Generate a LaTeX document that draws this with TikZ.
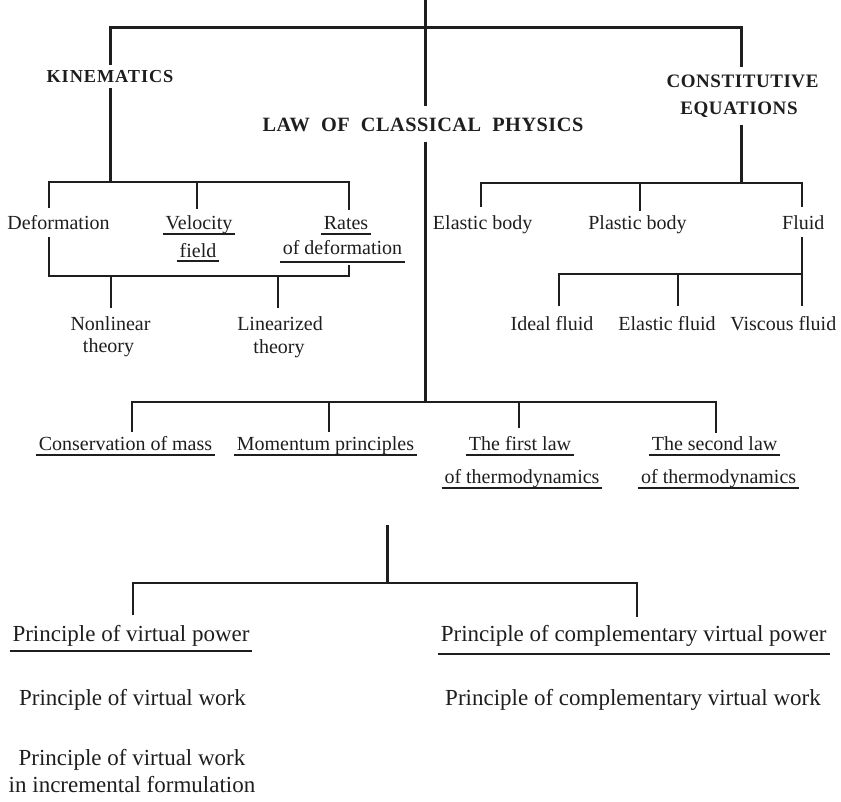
\documentclass[tikz,border=0pt]{standalone}
\usepackage{fontspec}
\setmainfont{Liberation Serif}
\definecolor{ink}{HTML}{1E1E1E}

% underline a line of text: #1 = distance of the rule's centre below the baseline
\newcommand\ulin[2][5.5pt]{%
  \setbox0=\hbox{#2}%
  \rlap{\kern-3pt\vrule height -\dimexpr#1-0.9pt\relax depth \dimexpr#1+0.9pt\relax width \dimexpr\wd0+6pt\relax}%
  \box0}

\begin{document}
\begin{tikzpicture}[x=1pt,y=-1pt,
  every node/.style={inner sep=0pt, outer sep=0pt, text=ink},
  lbl/.style={font=\fontsize{20}{24}\selectfont, anchor=base, text height=14pt, text depth=5pt},
  big/.style={font=\fontsize{23}{28}\selectfont, anchor=base, text height=16pt, text depth=6pt},
  headk/.style={font={\fontsize{18.3}{20}\selectfont\bfseries\addfontfeature{LetterSpace=5}}, anchor=base, text height=12pt, text depth=3pt},
  headl/.style={font={\fontsize{20.3}{22}\selectfont\bfseries\addfontfeature{LetterSpace=2.5}}, anchor=base, text height=13pt, text depth=4pt},
  headc/.style={font={\fontsize{19}{22}\selectfont\bfseries\addfontfeature{LetterSpace=3}}, anchor=base, text height=13pt, text depth=3pt},
  thickln/.style={draw=ink, line width=3pt, line join=miter},
  thinln/.style={draw=ink, line width=2pt, line join=miter},
]
\useasboundingbox (0,0) rectangle (841,801);

% ---------- headings ----------
\node[headk] (kin)  at (110,82)    {KINEMATICS};
\node[headl] (law)  at (423,131.7) {LAW~~OF~~CLASSICAL~~PHYSICS};
\node[headc] (con1) at (742.5,87.3)  {CONSTITUTIVE};
\node[headc] (con2) at (739,114) {EQUATIONS};

% ---------- kinematics ----------
\node[lbl] (def)  at (58.5,229)  {Deformation};
\node[lbl] (vel1) at (199,229)   {\ulin[5.3pt]{Velocity}};
\node[lbl] (vel2) at (198,257)   {\ulin[4.3pt]{field}};
\node[lbl] (rat1) at (346,229)   {\ulin[5.3pt]{Rates}};
\node[lbl] (rat2) at (342.5,254.5) {\ulin[7.5pt]{of deformation}};
\node[lbl] (non1) at (110.5,330) {Nonlinear};
\node[lbl] (non2) at (108.5,352.7) {theory};
\node[lbl] (lin1) at (280,330)   {Linearized};
\node[lbl] (lin2) at (279,353)   {theory};

% ---------- constitutive equations ----------
\node[lbl] (ela) at (482.7,229.3) {Elastic body};
\node[lbl] (pla) at (637.5,229.3) {Plastic body};
\node[lbl] (flu) at (803.3,229.3) {Fluid};
\node[lbl] (idl) at (552,330)     {Ideal fluid};
\node[lbl] (efl) at (667,330)     {Elastic fluid};
\node[lbl] (vis) at (783.3,330)   {Viscous fluid};

% ---------- laws of classical physics ----------
\node[lbl] (cons) at (125.5,450) {\ulin[5pt]{Conservation of mass}};
\node[lbl] (mom)  at (325.5,450) {\ulin[5pt]{Momentum principles}};
\node[lbl] (fl1)  at (520,450)   {\ulin[5pt]{The first law}};
\node[lbl] (fl2)  at (522,483.3) {\ulin[5pt]{of thermodynamics}};
\node[lbl] (sl1)  at (714.6,450) {\ulin[5pt]{The second law}};
\node[lbl] (sl2)  at (718.7,483.3) {\ulin[5pt]{of thermodynamics}};

% ---------- variational principles ----------
\node[big] (pvp)  at (131,641.7)   {\ulin[9pt]{Principle of virtual power}};
\node[big] (pcvp) at (633.7,641.7) {\ulin[12.3pt]{Principle of complementary virtual power}};
\node[big] (pvw)  at (132.5,705)   {Principle of virtual work};
\node[big] (pcvw) at (633,705)     {Principle of complementary virtual work};
\node[big] (pvi1) at (132,765)     {Principle of virtual work};
\node[big] (pvi2) at (132,792.7)   {in incremental formulation};

% ---------- junction points ----------
\coordinate (root) at (425.5,0);
\coordinate (tl) at (110,27);
\coordinate (tr) at (741.5,27);
\coordinate (kj) at (110,181.7);
\coordinate (k1) at (49,181.7);
\coordinate (k2) at (196.7,181.7);
\coordinate (k3) at (349.3,181.7);
\coordinate (l1) at (49,276);
\coordinate (l2) at (349.3,276);
\coordinate (l3) at (110.5,276);
\coordinate (l4) at (278.3,276);
\coordinate (cj) at (741.5,182.7);
\coordinate (r1) at (481,182.7);
\coordinate (r2) at (640,182.7);
\coordinate (r3) at (801.7,182.7);
\coordinate (f1) at (559,274);
\coordinate (f2) at (678.3,274);
\coordinate (f3) at (801.7,274);
\coordinate (mj) at (425.5,401.7);
\coordinate (m1) at (131.5,401.7);
\coordinate (m2) at (329.3,401.7);
\coordinate (m3) at (518.6,401.7);
\coordinate (m4) at (716,401.7);
\coordinate (broot) at (387,525);
\coordinate (bj) at (387,582.7);
\coordinate (b1) at (132.5,582.7);
\coordinate (b2) at (637.2,582.7);

% ---------- main trunk and top bar ----------
\draw[thickln, shorten >=12.7pt] (root) -- (root |- law.north);
\draw[thickln, shorten <=6pt] (root |- law.south) -- (mj);
\draw[thickln, shorten <=5pt, shorten >=7pt] (tl |- kin.north) -- (tl) -- (tr) -- (tr |- con1.north);
\draw[thickln, shorten <=3pt] (kin.south) -- (kj);
\draw[thickln, shorten <=8pt] (tr |- con2.south) -- (cj);

% ---------- kinematics branches ----------
\draw[thinln, shorten <=7pt, shorten >=5pt] (k1 |- def.north) -- (k1) -- (k3) -- (k3 |- rat1.north);
\draw[thinln, shorten >=6pt] (k2) -- (k2 |- vel1.north);
\draw[thinln, shorten <=3pt, shorten >=5.5pt] (l1 |- def.south) -- (l1) -- (l2) -- (l2 |- rat2.south);
\draw[thinln, shorten >=8pt] (l3) -- (l3 |- non1.north);
\draw[thinln, shorten >=8pt] (l4) -- (l4 |- lin1.north);

% ---------- constitutive branches ----------
\draw[thinln, shorten <=8.6pt, shorten >=8.6pt] (r1 |- ela.north) -- (r1) -- (r3) -- (r3 |- flu.north);
\draw[thinln, shorten >=4.6pt] (r2) -- (r2 |- pla.north);
\draw[thinln, shorten <=2.7pt, shorten >=10pt] (f3 |- flu.south) -- (f3 |- vis.north);
\draw[thinln, shorten <=10pt] (f1 |- idl.north) -- (f1) -- (f3);
\draw[thinln, shorten >=10pt] (f2) -- (f2 |- efl.north);

% ---------- balance laws ----------
\draw[thinln, shorten <=4.3pt, shorten >=3pt] (m1 |- cons.north) -- (m1) -- (m4) -- (m4 |- sl1.north);
\draw[thinln, shorten >=4.3pt] (m2) -- (m2 |- mom.north);
\draw[thinln, shorten >=8pt] (m3) -- (m3 |- fl1.north);

% ---------- variational principles ----------
\draw[thickln] (broot) -- (bj);
\draw[thinln, shorten <=10.7pt, shorten >=8.7pt] (b1 |- pvp.north) -- (b1) -- (b2) -- (b2 |- pcvp.north);
\end{tikzpicture}
\end{document}
